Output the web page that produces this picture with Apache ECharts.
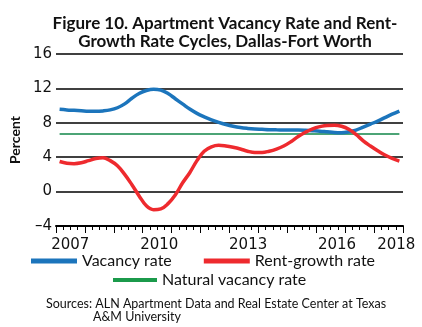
<!DOCTYPE html>
<html><head><meta charset="utf-8">
<script src="https://cdn.jsdelivr.net/npm/echarts@6/dist/echarts.min.js"></script>
<style>html,body{margin:0;padding:0;background:#fff}#c{width:422px;height:327px}</style>
</head><body><div id="c"></div>
<script>
// Quarterly categories 2007Q1 .. 2018Q4
const quarters = [
 '2007Q1','2007Q2','2007Q3','2007Q4','2008Q1','2008Q2','2008Q3','2008Q4',
 '2009Q1','2009Q2','2009Q3','2009Q4','2010Q1','2010Q2','2010Q3','2010Q4',
 '2011Q1','2011Q2','2011Q3','2011Q4','2012Q1','2012Q2','2012Q3','2012Q4',
 '2013Q1','2013Q2','2013Q3','2013Q4','2014Q1','2014Q2','2014Q3','2014Q4',
 '2015Q1','2015Q2','2015Q3','2015Q4','2016Q1','2016Q2','2016Q3','2016Q4',
 '2017Q1','2017Q2','2017Q3','2017Q4','2018Q1','2018Q2','2018Q3','2018Q4'
];
const vacancyRate = [
 9.57,9.5,9.45,9.4,9.35,9.33,9.38,9.5,
 9.75,10.2,10.85,11.4,11.75,11.9,11.8,11.4,
 10.8,10.2,9.6,9.1,8.7,8.35,8.05,7.8,
 7.6,7.45,7.35,7.28,7.24,7.2,7.18,7.17,
 7.16,7.15,7.12,7.08,7.03,6.95,6.87,6.85,
 6.95,7.15,7.5,7.85,8.2,8.6,9.0,9.37
];
const rentGrowthRate = [
 3.5,3.3,3.25,3.35,3.6,3.85,3.95,3.6,
 3.0,2.0,0.8,-0.5,-1.65,-2.1,-2.0,-1.4,
 -0.4,1.0,2.2,3.6,4.7,5.2,5.38,5.3,
 5.15,4.95,4.7,4.55,4.55,4.7,4.95,5.3,
 5.8,6.4,6.9,7.3,7.55,7.7,7.72,7.6,
 7.25,6.65,5.9,5.3,4.75,4.25,3.85,3.55
];
const naturalVacancyRate = 6.7;
const yearLabels = [2007, 2010, 2013, 2016, 2018];
const yTicks = [-4, 0, 4, 8, 12, 16];

function qx(q){ const y = +q.slice(0,4), n = +q.slice(5); return y + (n - 0.5) / 4; }
const vacData = quarters.map((q,i)=>[qx(q), vacancyRate[i]]);
const rentData = quarters.map((q,i)=>[qx(q), rentGrowthRate[i]]);
const natData = quarters.map(q=>[qx(q), naturalVacancyRate]);

const BLUE='#1c75bc', RED='#ee2a2e', GREEN='#12864a';
const chart = echarts.init(document.getElementById('c'), null, {renderer:'canvas'});
chart.setOption({
  animation:false,
  backgroundColor:'#fff',
  title:[
    {text:'Figure 10. Apartment Vacancy Rate and Rent-\nGrowth Rate Cycles, Dallas-Fort Worth',
     left:220, top:10, textAlign:'center',
     textStyle:{fontFamily:'Lato', fontWeight:'bold', fontSize:17, lineHeight:18, color:'#111'}},
    {text:'Sources: ALN Apartment Data and Real Estate Center at Texas', left:41, top:292,
     textStyle:{fontFamily:'Lato', fontWeight:'normal', fontSize:12.5, color:'#111'}},
    {text:'A&M University', left:88, top:305,
     textStyle:{fontFamily:'Lato', fontWeight:'normal', fontSize:12.5, color:'#111'}}
  ],
  legend:[
    {data:['Vacancy rate','Rent-growth rate'], left:31, top:253, padding:0,
     itemWidth:46, itemHeight:5, itemGap:32, icon:'rect',
     textStyle:{fontFamily:'Lato', fontSize:16, color:'#111'}},
    {data:['Natural vacancy rate'], left:113, top:272, padding:0,
     itemWidth:44, itemHeight:4, icon:'rect',
     textStyle:{fontFamily:'Lato', fontSize:16, color:'#111'}}
  ],
  grid:{left:40, right:19, top:54, bottom:101, containLabel:false},
  xAxis:[
    {type:'value', min:2007, max:2019, interval:1,
     axisLine:{show:true, onZero:false, lineStyle:{color:'#000', width:2}},
     axisTick:{show:true, length:7, lineStyle:{color:'#000', width:1}},
     minorTick:{show:true, splitNumber:4, length:4, lineStyle:{color:'#000', width:1}},
     axisLabel:{show:false}, splitLine:{show:false}},
    {type:'value', position:'bottom', min:2006.516, max:2018.226,
     axisLine:{show:false}, axisTick:{show:false}, splitLine:{show:false},
     axisLabel:{show:true, customValues:yearLabels, margin:12,
       fontFamily:'DejaVu Sans', fontSize:15, color:'#111', formatter:v=>String(v)}}
  ],
  yAxis:{type:'value', min:yTicks[0], max:yTicks[yTicks.length-1], interval:4,
    name:'Percent', nameLocation:'middle', nameRotate:90, nameGap:21,
    nameTextStyle:{fontFamily:'Lato', fontWeight:'bold', fontSize:14, color:'#111'},
    axisLine:{show:false}, axisTick:{show:false},
    axisLabel:{margin:4, fontFamily:'DejaVu Sans', fontSize:15, color:'#111',
      formatter:v=> v<0 ? '\u2013'+Math.abs(v) : String(v)},
    splitLine:{show:true, lineStyle:{color:'#000', width:1.5}}},
  series:[
    {name:'Natural vacancy rate', type:'line', data:natData, xAxisIndex:0, showSymbol:false,
     lineStyle:{color:GREEN, width:1.5}, itemStyle:{color:'#1b9a4b'}, z:2},
    {name:'Vacancy rate', type:'line', data:vacData, xAxisIndex:0, smooth:0.4, showSymbol:false,
     lineStyle:{color:BLUE, width:3.5}, itemStyle:{color:BLUE}, z:3},
    {name:'Rent-growth rate', type:'line', data:rentData, xAxisIndex:0, smooth:0.4, showSymbol:false,
     lineStyle:{color:RED, width:3.5}, itemStyle:{color:RED}, z:4}
  ]
});
</script></body></html>
